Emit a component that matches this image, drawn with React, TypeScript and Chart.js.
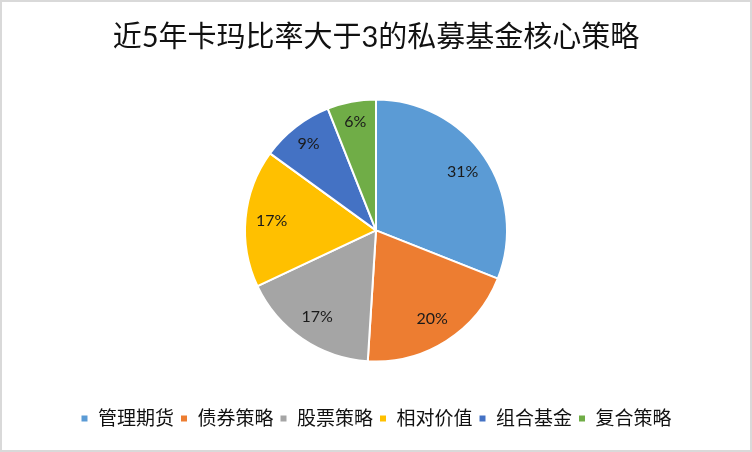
import React, { useEffect, useRef } from "react";
import { Chart, registerables } from "chart.js";

Chart.register(...registerables);

const TITLE = "近5年卡玛比率大于3的私募基金核心策略";
const categories = ["管理期货", "债券策略", "股票策略", "相对价值", "组合基金", "复合策略"];
const shares = [31, 20, 17, 17, 9, 6];
const colors = ["#5B9BD5", "#ED7D31", "#A5A5A5", "#FFC000", "#4472C4", "#70AD47"];

const LATIN_CJK = "Lato, 'Noto Sans CJK SC', sans-serif";

const labelPlugin = {
  id: "sliceLabels",
  afterDatasetsDraw(chart: any) {
    const ctx = chart.ctx;
    const meta = chart.getDatasetMeta(0);
    const data = chart.data.datasets[0].data as number[];
    ctx.save();
    ctx.font = `16px ${LATIN_CJK}`;
    ctx.fillStyle = "#1a1a1a";
    ctx.textAlign = "center";
    ctx.textBaseline = "middle";
    meta.data.forEach((arc: any, i: number) => {
      const p = arc.getProps(["x", "y", "startAngle", "endAngle", "outerRadius"], true);
      const mid = (p.startAngle + p.endAngle) / 2;
      const frac = data[i] < 10 ? 0.84 : 0.8;
      const r = p.outerRadius * frac;
      ctx.fillText(`${data[i]}%`, p.x + Math.cos(mid) * r, p.y + Math.sin(mid) * r);
    });
    ctx.restore();
  },
};

export default function App() {
  const ref = useRef<HTMLCanvasElement | null>(null);

  useEffect(() => {
    if (!ref.current) return;
    const chart = new Chart(ref.current, {
      type: "pie",
      data: {
        labels: categories,
        datasets: [
          {
            data: shares,
            backgroundColor: colors,
            borderColor: "#ffffff",
            borderWidth: 2,
            radius: 131,
          } as any,
        ],
      },
      options: {
        animation: false,
        responsive: true,
        maintainAspectRatio: false,
        layout: { padding: { top: 0, bottom: 12, left: 0, right: 0 } },
        plugins: {
          title: {
            display: true,
            text: TITLE,
            color: "#111111",
            font: { size: 29, family: LATIN_CJK, weight: "normal" as any, lineHeight: 1.2 },
            padding: { top: 18.6, bottom: 2.4 },
          },
          legend: {
            position: "bottom",
            labels: {
              boxWidth: 8,
              boxHeight: 8,
              padding: 6,
              color: "#111111",
              font: { size: 19, family: LATIN_CJK },
            },
          },
          tooltip: { enabled: false },
        },
      },
      plugins: [labelPlugin],
    });
    return () => chart.destroy();
  }, []);

  return (
    <div
      style={{
        position: "fixed",
        left: 0,
        top: 0,
        width: 752,
        height: 452,
        boxSizing: "border-box",
        border: "2px solid #d9d9d9",
        background: "#ffffff",
      }}
    >
      <div style={{ position: "relative", width: 748, height: 448 }}>
        <canvas ref={ref} />
      </div>
    </div>
  );
}
